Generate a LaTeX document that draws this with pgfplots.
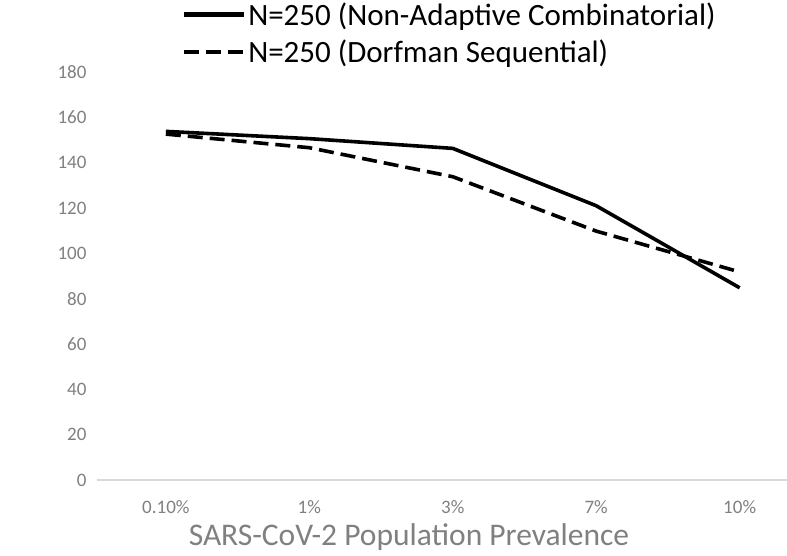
\documentclass[border=0pt]{standalone}
\usepackage{fontspec}
\setmainfont{Carlito}
\usepackage{pgfplots}
\pgfplotsset{compat=1.18}
\definecolor{ticktext}{RGB}{128,128,128}
\definecolor{axisgray}{RGB}{217,217,217}
\begin{document}
\begin{tikzpicture}
\path[use as bounding box] (-97pt,-75pt) rectangle (690pt,480pt);
\begin{axis}[
  at={(0,0)}, anchor=south west,
  scale only axis,
  width=690pt, height=408pt,
  xmin=-0.48, xmax=4.33,
  ymin=0, ymax=180,
  xtick={0,1,2,3,4},
  xticklabels={0.10\%,1\%,3\%,7\%,10\%},
  ytick={0,20,...,180},
  axis x line*=bottom, axis y line*=left,
  x axis line style={axisgray, line width=1.5pt},
  y axis line style={draw=none},
  major tick length=0pt,
  tick label style={font=\fontsize{19}{22}\selectfont, text=ticktext},
  yticklabel style={xshift=-7pt},
  xticklabel style={yshift=-17pt},
  /pgf/number format/assume math mode=true,
  xlabel={SARS-CoV-2 Population Prevalence},
  xlabel style={font=\fontsize{31.5}{36}\selectfont, text=ticktext, yshift=-3pt, xshift=-33pt},
  legend style={draw=none, fill=none, at={(rel axis cs:0.123,1.176)}, anchor=north west,
    font=\fontsize{31}{37}\selectfont, row sep=9pt, inner sep=0pt,
    legend cell align=left},
  legend image code/.code={\draw[#1, line width=4.2pt] (0pt,0pt) -- (60pt,0pt);},
]
\addplot[black, line width=3.6pt] coordinates {
(0,153.8) (1,150.6) (2,146.3) (3,121.0) (4,84.8)
};
\addlegendentry{N=250 (Non-Adaptive Combinatorial)}
\addplot[black, line width=3.6pt, dash pattern=on 15pt off 7pt] coordinates {
(0,152.6) (1,146.6) (2,133.8) (3,109.8) (4,91.8)
};
\addlegendentry{N=250 (Dorfman Sequential)}
\end{axis}
\end{tikzpicture}
\end{document}
